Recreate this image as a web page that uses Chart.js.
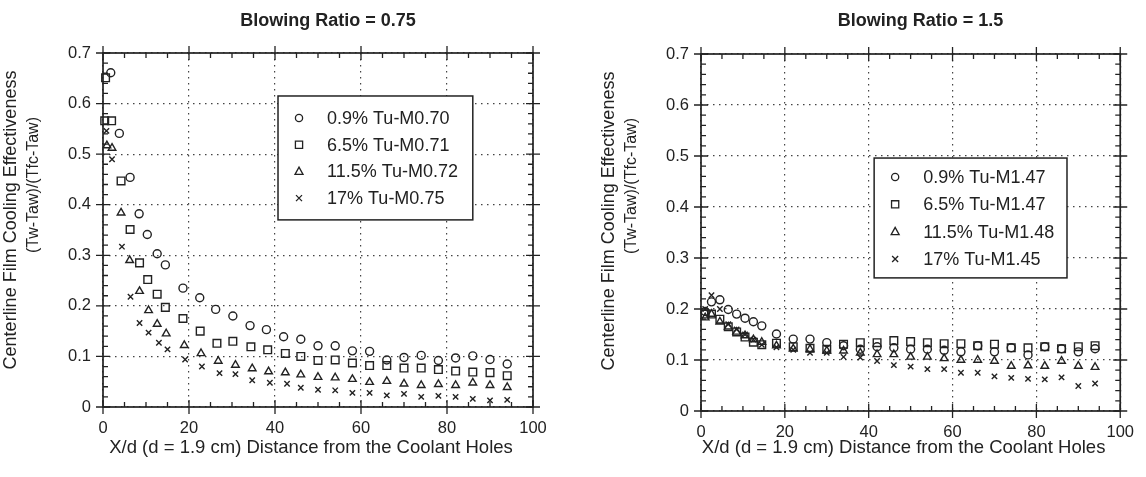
<!DOCTYPE html>
<html>
<head>
<meta charset="utf-8">
<script src="https://cdn.jsdelivr.net/npm/chart.js@4.4.1/dist/chart.umd.min.js"></script>
<style>
  html, body { margin: 0; padding: 0; background: #fff; }
  #wrap { position: relative; width: 1146px; height: 477px; }
  canvas { position: absolute; top: 0; }
</style>
</head>
<body>
<div id="wrap">
  <canvas id="leftChart" width="573" height="477" style="left:0"></canvas>
  <canvas id="rightChart" width="573" height="477" style="left:573px"></canvas>
</div>
<script>
// ---- data ----
const leftTitle = 'Blowing Ratio = 0.75';
const rightTitle = 'Blowing Ratio = 1.5';
const xTitle = 'X/d (d = 1.9 cm) Distance from the Coolant Holes';
const yTitle = ['Centerline Film Cooling Effectiveness', '(Tw-Taw)/(Tfc-Taw)'];

const leftLabels = ['0.9% Tu-M0.70', '6.5% Tu-M0.71', '11.5% Tu-M0.72', '17% Tu-M0.75'];
const rightLabels = ['0.9% Tu-M1.47', '6.5% Tu-M1.47', '11.5% Tu-M1.48', '17% Tu-M1.45'];

// left panel (M ~ 0.75)
const leftCircleX = [1.8, 3.8, 6.3, 8.4, 10.3, 12.6, 14.5, 18.6, 22.5, 26.2, 30.2, 34.2, 38, 42, 46, 50, 54, 58, 62, 66, 70, 74, 78, 82, 86, 90, 94];
const leftCircleY = [0.661, 0.541, 0.454, 0.382, 0.341, 0.303, 0.281, 0.235, 0.216, 0.193, 0.180, 0.161, 0.153, 0.139, 0.134, 0.121, 0.121, 0.111, 0.110, 0.093, 0.098, 0.102, 0.092, 0.097, 0.101, 0.094, 0.085];
const leftSquareX = [0.6, 0.4, 2.0, 4.2, 6.3, 8.5, 10.4, 12.6, 14.5, 18.6, 22.6, 26.5, 30.2, 34.4, 38.3, 42.4, 46, 50, 54, 58, 62, 66, 70, 74, 78, 82, 86, 90, 94];
const leftSquareY = [0.651, 0.566, 0.566, 0.447, 0.351, 0.285, 0.252, 0.223, 0.197, 0.175, 0.150, 0.126, 0.130, 0.119, 0.113, 0.106, 0.100, 0.092, 0.093, 0.087, 0.082, 0.082, 0.077, 0.077, 0.074, 0.071, 0.069, 0.068, 0.062];
const leftTriX = [0.9, 2.1, 4.2, 6.2, 8.5, 10.6, 12.6, 14.7, 18.9, 22.8, 26.8, 30.8, 34.7, 38.5, 42.4, 46, 50, 54, 58, 62, 66, 70, 74, 78, 82, 86, 90, 94];
const leftTriY = [0.517, 0.512, 0.384, 0.290, 0.229, 0.191, 0.164, 0.145, 0.122, 0.106, 0.091, 0.083, 0.076, 0.070, 0.068, 0.064, 0.059, 0.058, 0.055, 0.049, 0.051, 0.046, 0.043, 0.045, 0.043, 0.048, 0.043, 0.039];
const leftCrossX = [0.8, 2.1, 4.4, 6.4, 8.5, 10.6, 13.0, 15.0, 19.1, 23.0, 27.1, 30.8, 34.7, 38.8, 42.8, 46, 50, 54, 58, 62, 66, 70, 74, 78, 82, 86, 90, 94];
const leftCrossY = [0.546, 0.490, 0.317, 0.218, 0.166, 0.147, 0.127, 0.114, 0.094, 0.080, 0.067, 0.065, 0.053, 0.048, 0.046, 0.038, 0.034, 0.033, 0.028, 0.028, 0.023, 0.026, 0.020, 0.022, 0.020, 0.016, 0.013, 0.014];

// right panel (M ~ 1.5), all four series share the same stations
const rightX = [1, 2.5, 4.5, 6.5, 8.5, 10.5, 12.5, 14.5, 18, 22, 26, 30, 34, 38, 42, 46, 50, 54, 58, 62, 66, 70, 74, 78, 82, 86, 90, 94];
const rightCircleY = [0.195, 0.214, 0.218, 0.199, 0.190, 0.182, 0.175, 0.167, 0.151, 0.141, 0.141, 0.134, 0.128, 0.121, 0.126, 0.124, 0.121, 0.121, 0.119, 0.116, 0.128, 0.116, 0.124, 0.110, 0.126, 0.122, 0.116, 0.122];
const rightSquareY = [0.190, 0.190, 0.180, 0.165, 0.155, 0.145, 0.135, 0.130, 0.133, 0.126, 0.123, 0.121, 0.131, 0.134, 0.134, 0.138, 0.136, 0.134, 0.132, 0.132, 0.128, 0.131, 0.124, 0.124, 0.126, 0.122, 0.126, 0.128];
const rightTriY = [0.183, 0.190, 0.175, 0.165, 0.155, 0.148, 0.140, 0.135, 0.128, 0.122, 0.121, 0.118, 0.118, 0.114, 0.111, 0.111, 0.106, 0.106, 0.103, 0.100, 0.100, 0.098, 0.088, 0.089, 0.088, 0.098, 0.088, 0.086];
const rightCrossY = [0.200, 0.227, 0.200, 0.170, 0.160, 0.150, 0.140, 0.130, 0.125, 0.120, 0.114, 0.114, 0.106, 0.105, 0.098, 0.090, 0.087, 0.082, 0.082, 0.075, 0.075, 0.068, 0.065, 0.063, 0.062, 0.066, 0.049, 0.054];

const INK = '#222';
const FONT = "'Liberation Sans', Arial, Helvetica, sans-serif";
Chart.defaults.font.family = FONT;
Chart.defaults.color = INK;

const styles = ['circle', 'rect', 'triangle', 'crossRot'];
const radii = [4, 5.4, 4.4, 3.8];

function series(label, xs, ys, i) {
  return {
    label: label,
    data: xs.map((x, k) => ({ x: x, y: ys[k] })),
    pointStyle: styles[i],
    pointRadius: radii[i],
    pointHoverRadius: radii[i],
    pointBorderColor: INK,
    pointBackgroundColor: 'rgba(0,0,0,0)',
    pointBorderWidth: 1.4,
    showLine: false,
    clip: false
  };
}

function marker(ctx, style, cx, cy) {
  ctx.beginPath();
  if (style === 'circle') {
    ctx.arc(cx, cy, 3.6, 0, Math.PI * 2);
  } else if (style === 'rect') {
    ctx.rect(cx - 3.6, cy - 3.6, 7.2, 7.2);
  } else if (style === 'triangle') {
    ctx.moveTo(cx, cy - 4.2);
    ctx.lineTo(cx + 4, cy + 3);
    ctx.lineTo(cx - 4, cy + 3);
    ctx.closePath();
  } else {
    ctx.moveTo(cx - 3, cy - 3); ctx.lineTo(cx + 3, cy + 3);
    ctx.moveTo(cx + 3, cy - 3); ctx.lineTo(cx - 3, cy + 3);
  }
  ctx.stroke();
}

// frame with ticks on all four sides, titles and boxed legend
const paperPlugin = {
  id: 'paper',
  afterDatasetsDraw(chart, args, opts) {
    const { ctx, chartArea: a, scales: { x, y } } = chart;
    ctx.save();
    ctx.strokeStyle = INK;
    ctx.fillStyle = INK;
    ctx.lineWidth = 1.3;
    ctx.beginPath();
    for (let v = 0; v <= 100; v += 5) {
      const px = x.getPixelForValue(v);
      if (v % 20 === 0) {
        ctx.moveTo(px, a.bottom + 7); ctx.lineTo(px, a.bottom - 7);
        ctx.moveTo(px, a.top - 7); ctx.lineTo(px, a.top + 7);
      } else {
        ctx.moveTo(px, a.bottom); ctx.lineTo(px, a.bottom - 5);
        ctx.moveTo(px, a.top); ctx.lineTo(px, a.top + 5);
      }
    }
    for (let k = 0; k <= 35; k++) {
      const py = y.getPixelForValue(k * 0.02);
      if (k % 5 === 0) {
        ctx.moveTo(a.left - 7, py); ctx.lineTo(a.left + 7, py);
        ctx.moveTo(a.right - 7, py); ctx.lineTo(a.right + 7, py);
      } else {
        ctx.moveTo(a.left, py); ctx.lineTo(a.left + 5, py);
        ctx.moveTo(a.right, py); ctx.lineTo(a.right - 5, py);
      }
    }
    ctx.stroke();
    ctx.lineWidth = 1.7;
    ctx.strokeRect(a.left, a.top, a.right - a.left, a.bottom - a.top);

    const mid = (a.left + a.right) / 2;
    ctx.textAlign = 'center';
    ctx.textBaseline = 'middle';

    // panel title
    ctx.font = 'bold 18px ' + FONT;
    ctx.fillText(opts.title, mid + 10, 21);

    // x title
    ctx.font = '18.5px ' + FONT;
    ctx.fillText(xTitle, mid - 7, 448);

    // y title, two rotated lines
    [[a.left - 92, a.top + 167, 18], [a.left - 69, a.top + 132, 16]].forEach((p, i) => {
      ctx.save();
      ctx.font = p[2] + 'px ' + FONT;
      ctx.translate(p[0], p[1]);
      ctx.rotate(-Math.PI / 2);
      ctx.fillText(yTitle[i], 0, 0);
      ctx.restore();
    });

    // boxed legend
    const b = opts.legendBox;
    const l = x.getPixelForValue(b.x0), r = x.getPixelForValue(b.x1);
    const t = y.getPixelForValue(b.y0), bt = y.getPixelForValue(b.y1);
    ctx.fillStyle = '#fff';
    ctx.fillRect(l, t, r - l, bt - t);
    ctx.lineWidth = 1.5;
    ctx.strokeRect(l, t, r - l, bt - t);
    ctx.fillStyle = INK;
    ctx.font = '18px ' + FONT;
    ctx.textAlign = 'left';
    ctx.lineWidth = 1.3;
    chart.data.datasets.forEach((ds, i) => {
      const ry = t + opts.firstRow + i * opts.rowGap;
      marker(ctx, ds.pointStyle, l + 21, ry);
      ctx.fillText(ds.label, l + 49, ry + 1);
    });
    ctx.restore();
  }
};

function makeChart(id, title, labels, xsList, ysList, pad, xHeight, legend) {
  return new Chart(document.getElementById(id), {
    type: 'scatter',
    data: { datasets: labels.map((lab, i) => series(lab, xsList[i], ysList[i], i)) },
    options: {
      responsive: false,
      animation: false,
      events: [],
      layout: { padding: pad },
      plugins: {
        legend: { display: false },
        tooltip: { enabled: false },
        paper: Object.assign({ title: title }, legend)
      },
      scales: {
        x: {
          type: 'linear', min: 0, max: 100,
          ticks: { stepSize: 20, padding: 12, color: INK, font: { size: 16.5 } },
          grid: { color: '#444', lineWidth: 1.2, drawTicks: false },
          border: { display: false, dash: [1.5, 4.5] },
          afterFit: s => { s.height = xHeight; }
        },
        y: {
          type: 'linear', min: 0, max: 0.7,
          ticks: { stepSize: 0.1, padding: 12, color: INK, font: { size: 16.5 },
                   callback: v => v === 0 ? '0' : v.toFixed(1) },
          grid: { color: '#444', lineWidth: 1.2, drawTicks: false },
          border: { display: false, dash: [1.5, 4.5] },
          afterFit: s => { s.width = 103; }
        }
      }
    },
    plugins: [paperPlugin]
  });
}

makeChart('leftChart', leftTitle, leftLabels,
  [leftCircleX, leftSquareX, leftTriX, leftCrossX],
  [leftCircleY, leftSquareY, leftTriY, leftCrossY],
  { left: 0, right: 40, top: 53, bottom: 0 }, 70,
  { legendBox: { x0: 40.7, x1: 86, y0: 0.615, y1: 0.37 }, firstRow: 22, rowGap: 26.7 });

makeChart('rightChart', rightTitle, rightLabels,
  [rightX, rightX, rightX, rightX],
  [rightCircleY, rightSquareY, rightTriY, rightCrossY],
  { left: 25, right: 19, top: 54, bottom: 0 }, 66,
  { legendBox: { x0: 41.3, x1: 87.3, y0: 0.496, y1: 0.261 }, firstRow: 19, rowGap: 27.3 });
</script>
</body>
</html>
